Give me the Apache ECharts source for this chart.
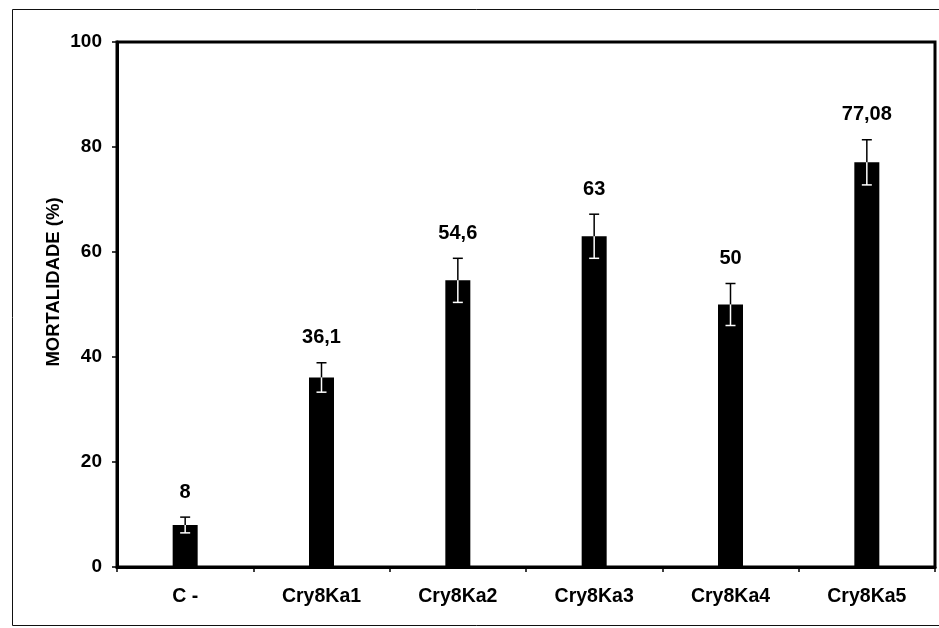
<!DOCTYPE html>
<html>
<head>
<meta charset="utf-8">
<script src="https://cdn.jsdelivr.net/npm/echarts@6/dist/echarts.min.js"></script>
<style>
  html, body { margin: 0; padding: 0; background: #fff; }
  #chart { width: 939px; height: 628px; }
</style>
</head>
<body>
<div id="chart"></div>
<script>
// Mortalidade (%) por tratamento, com desvio
const categories = ['C -', 'Cry8Ka1', 'Cry8Ka2', 'Cry8Ka3', 'Cry8Ka4', 'Cry8Ka5'];
const mortalidade = [8, 36.1, 54.6, 63, 50, 77.08];
const desvio = [1.5, 2.8, 4.2, 4.2, 4.0, 4.3];
const yTicks = [0, 20, 40, 60, 80, 100];
const yTitle = 'MORTALIDADE (%)';

const FONT = '"Liberation Sans", Arial, sans-serif';
const chart = echarts.init(document.getElementById('chart'));

const errData = mortalidade.map((v, i) => [i, v, desvio[i]]);
const fmt = v => String(v).replace('.', ',');

chart.setOption({
  backgroundColor: '#fff',
  animation: false,
  graphic: [
    {
      type: 'rect',
      shape: { x: 12.5, y: 9.5, width: 960, height: 616 },
      style: { fill: 'none', stroke: '#111', lineWidth: 1 },
      silent: true
    },
    {
      type: 'text',
      x: 53.5, y: 282,
      rotation: Math.PI / 2,
      style: {
        text: yTitle, fill: '#000', font: 'bold 18.5px ' + FONT,
        textAlign: 'center', textVerticalAlign: 'middle'
      },
      silent: true
    }
  ],
  grid: {
    left: 117, right: 4, top: 42, bottom: 61,
    show: true, borderColor: '#000', borderWidth: 3, backgroundColor: 'transparent'
  },
  xAxis: {
    type: 'category',
    data: categories,
    boundaryGap: true,
    axisLine: { show: true, lineStyle: { color: '#000', width: 3 } },
    axisTick: { show: true, alignWithLabel: false, length: 5, lineStyle: { color: '#000', width: 1.5 } },
    axisLabel: { color: '#000', fontFamily: FONT, fontWeight: 'bold', fontSize: 19.5, margin: 20 }
  },
  yAxis: {
    type: 'value',
    min: yTicks[0], max: yTicks[yTicks.length - 1], interval: 20,
    splitLine: { show: false },
    axisLine: { show: true, lineStyle: { color: '#000', width: 3 } },
    axisTick: { show: true, length: 5, lineStyle: { color: '#000', width: 1.5 } },
    axisLabel: { color: '#000', fontFamily: FONT, fontWeight: 'bold', fontSize: 19, margin: 15 }
  },
  series: [
    {
      type: 'bar',
      data: mortalidade,
      barWidth: 25,
      itemStyle: { color: '#000' },
      z: 2
    },
    {
      type: 'custom',
      data: errData,
      z: 3,
      renderItem: function (params, api) {
        const i = api.value(0), v = api.value(1), e = api.value(2);
        const top = api.coord([i, v]);
        const hi = api.coord([i, v + e]);
        const lo = api.coord([i, v - e]);
        const x = top[0];
        const half = 5;
        return {
          type: 'group',
          children: [
            { type: 'line', shape: { x1: x, y1: top[1], x2: x, y2: hi[1] },
              style: { stroke: '#000', lineWidth: 1.5 } },
            { type: 'line', shape: { x1: x - half, y1: hi[1], x2: x + half, y2: hi[1] },
              style: { stroke: '#000', lineWidth: 1.5 } },
            { type: 'line', shape: { x1: x, y1: top[1], x2: x, y2: lo[1] },
              style: { stroke: '#fff', lineWidth: 1.5 } },
            { type: 'line', shape: { x1: x - half, y1: lo[1], x2: x + half, y2: lo[1] },
              style: { stroke: '#fff', lineWidth: 1.5 } },
            { type: 'text', x: x, y: hi[1] - 25,
              style: { text: fmt(v), fill: '#000', font: 'bold 20px ' + FONT,
                       textAlign: 'center', textVerticalAlign: 'middle' } }
          ]
        };
      }
    }
  ]
});
</script>
</body>
</html>
